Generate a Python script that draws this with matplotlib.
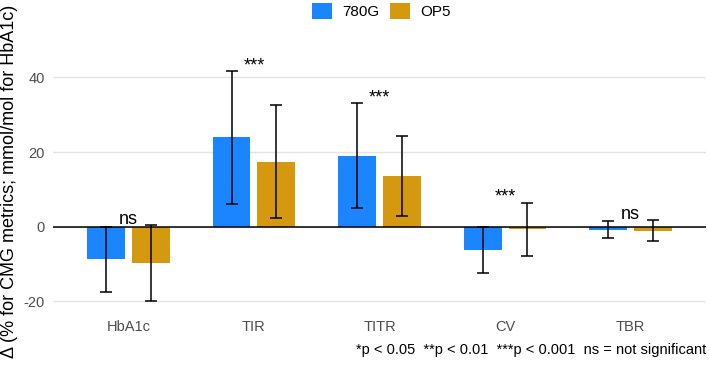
import matplotlib
matplotlib.use("Agg")
import matplotlib.pyplot as plt
import numpy as np
from matplotlib.patches import Patch

plt.rcParams["font.family"] = ["Liberation Sans", "DejaVu Sans"]
plt.rcParams["axes.unicode_minus"] = False

# data
metrics = ["HbA1c", "TIR", "TITR", "CV", "TBR"]
groups = ["780G", "OP5"]
mean_780g = [-8.8, 24.0, 19.0, -6.2, -0.8]
low_780g = [-17.5, 6.0, 4.9, -12.4, -3.1]
high_780g = [-0.1, 41.7, 33.1, -0.2, 1.4]
mean_op5 = [-9.7, 17.4, 13.6, -0.6, -1.1]
low_op5 = [-20.0, 2.4, 2.9, -7.9, -3.8]
high_op5 = [0.5, 32.6, 24.3, 6.4, 1.7]
signif = ["ns", "***", "***", "***", "ns"]
caption = "*p < 0.05  **p < 0.01  ***p < 0.001  ns = not significant"

colors = {"780G": "#1A85FF", "OP5": "#D4990E"}

fig = plt.figure(figsize=(7.09, 3.67), dpi=100)
ax = fig.add_axes([0.0748, 0.147, 0.921, 0.715])

x = np.arange(len(metrics))
offset = 0.178
width = 0.3

series = [
    ("780G", -offset, mean_780g, low_780g, high_780g),
    ("OP5", offset, mean_op5, low_op5, high_op5),
]
for name, dx, mean, low, high in series:
    mean = np.array(mean)
    ax.bar(x + dx, mean, width=width, color=colors[name], zorder=2)
    yerr = np.vstack([mean - np.array(low), np.array(high) - mean])
    ax.errorbar(x + dx, mean, yerr=yerr, fmt="none", ecolor="black",
                elinewidth=1.1, capsize=4.5, capthick=1.1, zorder=3)

ax.axhline(0, color="black", lw=1.1, zorder=2.5)

# significance labels sit just above the higher error bar
for i, lab in enumerate(signif):
    top = max(high_780g[i], high_op5[i])
    ax.text(x[i], top + 0.2, lab, ha="center", va="baseline", fontsize=13, color="black")

ax.set_xlim(-0.6, 4.6)
ax.set_ylim(-23.2, 47.2)
ax.set_yticks([-20, 0, 20, 40])
ax.set_xticks(x)
ax.set_xticklabels(metrics)
ax.tick_params(axis="both", length=0, labelsize=10.5, colors="#4D4D4D", pad=6)
ax.tick_params(axis="x", pad=5)
ax.yaxis.grid(True, color="#E3E3E3", lw=1.0, zorder=0)
ax.set_axisbelow(True)
for s in ax.spines.values():
    s.set_visible(False)

fig.text(10 / 709, 0.505, "Δ (% for CMG metrics; mmol/mol for HbA1c)", rotation=90,
         ha="center", va="center", fontsize=13, color="black")

handles = [Patch(facecolor=colors[g], edgecolor="none", label=g) for g in groups]
fig.legend(handles=handles, loc="upper center", bbox_to_anchor=(0.538, 1.03), ncol=2,
           frameon=False, fontsize=11, handlelength=1.3, handleheight=1.3,
           columnspacing=0.7, handletextpad=0.7)

fig.text(0.996, 0.045, caption, ha="right", va="center", fontsize=10.5, color="black")

fig.savefig("out.png", dpi=100)
